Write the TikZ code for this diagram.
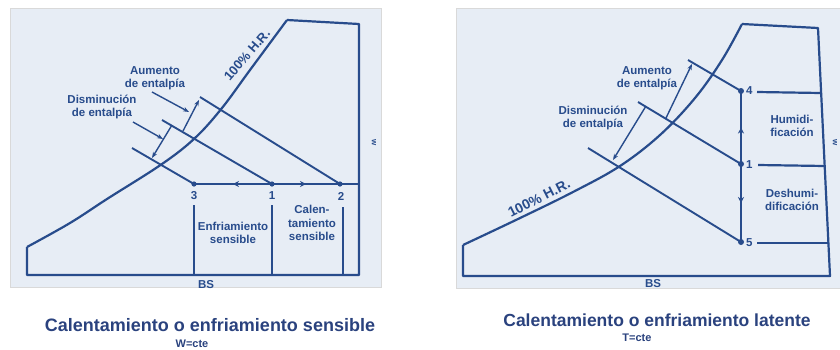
\documentclass[tikz,border=0pt]{standalone}
\usepackage{fontspec}
\setmainfont{Liberation Sans}
\usetikzlibrary{arrows.meta,calc}
\definecolor{ink}{RGB}{40,76,140}
\definecolor{paper}{RGB}{231,237,245}
\definecolor{capink}{RGB}{42,66,126}
\begin{document}
\begin{tikzpicture}[x=1pt,y=-1pt,
  chart/.style={draw=ink,line width=2.2pt,line join=round},
  enth/.style={draw=ink,line width=1.9pt},
  flow/.style={draw=ink,line width=2.2pt,-{Stealth[length=6pt,width=6pt]}},
  dim/.style={draw=ink,line width=1.4pt,-{Stealth[length=6pt,width=4.5pt]}},
  lab/.style={text=ink,font=\fontsize{11.5}{13.5}\selectfont\bfseries,align=center,inner sep=0pt},
  captext/.style={text=capink,font=\fontsize{18}{20}\selectfont\bfseries,inner sep=0pt,anchor=base},
  capsub/.style={text=capink,font=\fontsize{11}{12}\selectfont\bfseries,inner sep=0pt,anchor=base}]
\useasboundingbox (0,0) rectangle (840,349);
\fill[white] (0,0) rectangle (840,349);
\filldraw[fill=paper,draw=black!15] (10,8) rectangle (381,287);
\filldraw[fill=paper,draw=black!15] (456,8) rectangle (840,288);
% sensible: w = cte
\coordinate (a0) at (27,247);
\coordinate (a1) at (287,20);
\coordinate (a2) at (359,24);
\coordinate (a3) at (359,275);
\coordinate (a4) at (27,275);
\draw[chart] plot[smooth,tension=0.6] coordinates {(27,247) (70,223) (107,199) (162,164) (195,138) (222,108) (250,70) (287,20)};
\draw[chart] (a1) -- (a2) -- (a3) -- (a4) -- (a0);
\coordinate (p3) at (194,184);
\coordinate (p1) at (272,184);
\coordinate (p2) at (340,184);
\coordinate (q) at (359,184);
\coordinate (e3) at (132,148);
\coordinate (e1) at (162,120);
\coordinate (e2) at (200,97);
\draw[enth] (e3) -- (p3);
\draw[enth] (e1) -- (p1);
\draw[enth] (e2) -- (p2);
\draw[chart] (p3) -- (q);
\draw[flow] (p1) -- ($(p1)!0.5!(p3)$);
\draw[flow] (p1) -- ($(p1)!0.5!(p2)$);
\foreach \p in {p3,p1,p2} \fill[ink] (\p) circle (2.6pt);
\draw[chart] (194,205) -- (194,275);
\draw[chart] (272,205) -- (272,275);
\draw[chart] (343,207) -- (343,275);
\node[lab] (n3) at (194,196) {3};
\node[lab] (n1) at (272,196) {1};
\node[lab] (n2) at (341,196) {2};
\node[lab] (enf) at (233,233) {Enfriamiento\\sensible};
\node[lab] (cal) at (312,223) {Calen-\\tamiento\\sensible};
\node[lab] (bs1) at (206,285) {BS};
\node[lab,font=\fontsize{8}{9}\selectfont\bfseries,rotate=-90] (w1) at (374,143) {w};
\node[lab,font=\fontsize{13}{15}\selectfont\bfseries,rotate=49] (hr1) at (247,55) {100\% H.R.};
\node[lab] (aum1) at (155,78) {Aumento\\de entalpía};
\node[lab] (dis1) at (102,107) {Disminución\\de entalpía};
\coordinate (d1) at (172,125);
\coordinate (d2) at (152,158);
\draw[dim] (d1) -- (d2);
\coordinate (u1) at (183,131);
\coordinate (u2) at (199,100);
\draw[dim] (u1) -- (u2);
\coordinate (la) at (152,92);
\coordinate (lb) at (189,112);
\draw[dim] (la) -- (lb);
\coordinate (lc) at (133,122);
\coordinate (ld) at (163,139);
\draw[dim] (lc) -- (ld);
% latente: T = cte
\coordinate (c0) at (463,245);
\coordinate (c1) at (742,24);
\coordinate (c2) at (818,28);
\coordinate (c3) at (830,276);
\coordinate (c4) at (463,276);
\draw[chart] plot[smooth,tension=0.6] coordinates {(463,245) (518,219) (573,192) (620,166) (660,135) (695,98) (722,60) (742,24)};
\draw[chart] (c1) -- (c2) -- (c3) -- (c4) -- (c0);
\coordinate (r4) at (741,91);
\coordinate (r1) at (741,164);
\coordinate (r5) at (741,242);
\coordinate (f4) at (688,60);
\coordinate (f1) at (638,102);
\coordinate (f5) at (588,148);
\draw[enth] (f4) -- (r4);
\draw[enth] (f1) -- (r1);
\draw[enth] (f5) -- (r5);
\draw[chart,line width=2.8pt] (r4) -- (r5);
\draw[flow] (r1) -- ($(r1)!0.5!(r4)$);
\draw[flow] (r1) -- ($(r1)!0.5!(r5)$);
\foreach \p in {r4,r1,r5} \fill[ink] (\p) circle (3pt);
\node[lab,anchor=west] (n4) at (746,91) {4};
\node[lab,anchor=west] (n1b) at (746,165) {1};
\node[lab,anchor=west] (n5) at (746,243) {5};
\coordinate (h4a) at (757,92);
\coordinate (h4b) at (821,93);
\coordinate (h1a) at (758,165);
\coordinate (h1b) at (825,166);
\coordinate (h5a) at (757,243);
\coordinate (h5b) at (829,243);
\draw[chart] (h4a) -- (h4b);
\draw[chart] (h1a) -- (h1b);
\draw[chart] (h5a) -- (h5b);
\node[lab] (hum) at (792,126) {Humidi-\\ficación};
\node[lab] (des) at (792,200) {Deshumi-\\dificación};
\node[lab] (bs2) at (653,284) {BS};
\node[lab,font=\fontsize{8}{9}\selectfont\bfseries,rotate=-90] (w2) at (835,143) {w};
\node[lab,font=\fontsize{14}{16}\selectfont\bfseries,rotate=27] (hr2) at (539,198) {100\% H.R.};
\node[lab] (aum2) at (647,78) {Aumento\\de entalpía};
\node[lab] (dis2) at (593,118) {Disminución\\de entalpía};
\coordinate (s1) at (666,118);
\coordinate (s2) at (692,64);
\draw[dim] (s1) -- (s2);
\coordinate (t1) at (646,106);
\coordinate (t2) at (613,160);
\draw[dim] (t1) -- (t2);
% captions
\node[captext] (cap1) at (210,331) {Calentamiento o enfriamiento sensible};
\node[capsub] (sub1) at (192,347) {W=cte};
\node[captext,font=\fontsize{17.5}{20}\selectfont\bfseries] (cap2) at (657,326) {Calentamiento o enfriamiento latente};
\node[capsub] (sub2) at (637,341) {T=cte};
\end{tikzpicture}
\end{document}
